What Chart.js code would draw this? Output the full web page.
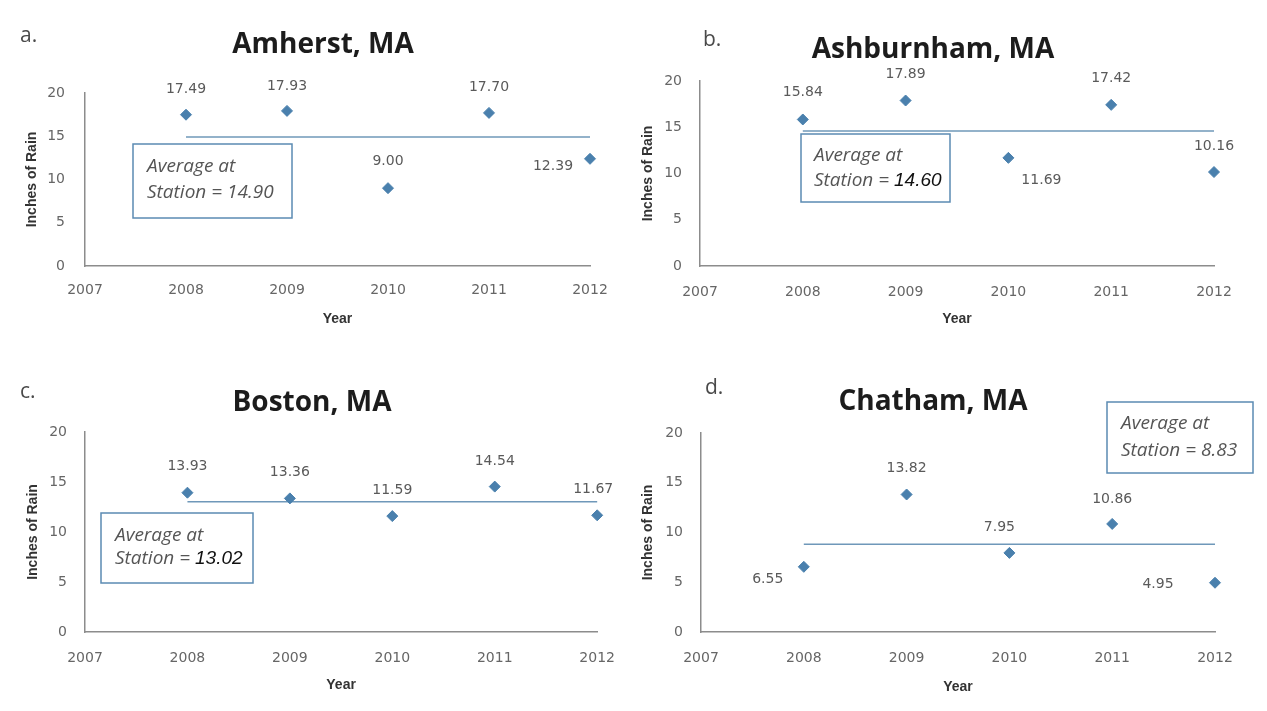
<!DOCTYPE html>
<html>
<head>
<meta charset="utf-8">
<title>Inches of Rain by Year</title>
<script src="https://cdn.jsdelivr.net/npm/chart.js@4.4.0/dist/chart.umd.min.js"></script>
<style>
  body { margin: 0; background: #fff; }
  #wrap { position: relative; width: 1267px; height: 711px; overflow: hidden; }
  canvas { position: absolute; }
</style>
</head>
<body>
<div id="wrap">
  <canvas id="chartA" style="left:0;top:0" width="633" height="355"></canvas>
  <canvas id="chartB" style="left:633px;top:0" width="634" height="355"></canvas>
  <canvas id="chartC" style="left:0;top:355px" width="633" height="356"></canvas>
  <canvas id="chartD" style="left:633px;top:355px" width="634" height="356"></canvas>
</div>
<script>
// Years measured and axis ticks
const years = [2008, 2009, 2010, 2011, 2012];
const yearTicks = [2007, 2008, 2009, 2010, 2011, 2012];
const rainTicks = [0, 5, 10, 15, 20];

// Inches of rain at each station
const amherst = [17.49, 17.93, 9.00, 17.70, 12.39];
const ashburnham = [15.84, 17.89, 11.69, 17.42, 10.16];
const boston = [13.93, 13.36, 11.59, 14.54, 11.67];
const chatham = [6.55, 13.82, 7.95, 10.86, 4.95];

// Station averages
const averages = [14.90, 14.60, 13.02, 8.83];
const stations = ['Amherst, MA', 'Ashburnham, MA', 'Boston, MA', 'Chatham, MA'];
const letters = ['a.', 'b.', 'c.', 'd.'];
const seriesList = [amherst, ashburnham, boston, chatham];

// Layout of each panel (pixels inside its canvas)
const panels = [
  { id: 'chartA', area: { l: 85, t: 93, r: 590, b: 266 }, yTitleX: 32, xTitleY: 319, xTickPad: 16, yTickPad: 20,
    letter: [20, 36], title: [323, 45], box: [133, 144, 159, 74], boxText: [147, 167, 193], darkValue: false,
    offsets: [[0, -25], [0, -25], [0, -27], [0, -26], [-37, 8]] },
  { id: 'chartB', area: { l: 67, t: 81, r: 581, b: 266 }, yTitleX: 15, xTitleY: 319, xTickPad: 18, yTickPad: 18,
    letter: [70, 40], title: [300, 50], box: [168, 134, 149, 68], boxText: [181, 156, 181], darkValue: true,
    offsets: [[0, -27], [0, -26], [33, 22], [0, -27], [0, -26]] },
  { id: 'chartC', area: { l: 85, t: 77, r: 600, b: 277 }, yTitleX: 33, xTitleY: 330, xTickPad: 18, yTickPad: 18,
    letter: [20, 37], title: [312, 48], box: [101, 158, 152, 70], boxText: [115, 181, 204], darkValue: true,
    offsets: [[0, -26], [0, -26], [0, -26], [0, -25], [-4, -26]] },
  { id: 'chartD', area: { l: 68, t: 78, r: 582, b: 277 }, yTitleX: 15, xTitleY: 332, xTickPad: 18, yTickPad: 18,
    letter: [72, 33], title: [300, 47], box: [474, 47, 146, 71], boxText: [488, 69, 96], darkValue: false,
    offsets: [[-36, 13], [0, -26], [-10, -26], [0, -25], [-57, 2]] }
];

const pointColor = '#4a80ad';
const lineColor = '#6f98b9';
const axisColor = '#8c8c8c';

function makePanel(p, i) {
  const canvas = document.getElementById(p.id);
  const values = seriesList[i];
  const avg = averages[i];
  const titleHalf = 8.4;

  const padLeft = p.yTitleX - titleHalf;
  const yWidth = p.area.l - padLeft;
  const xBottom = p.xTitleY + titleHalf;
  const xHeight = xBottom - p.area.b;

  // letter, title, data labels and the average box
  const panelText = {
    id: 'panelText',
    afterDatasetsDraw(chart) {
      const ctx = chart.ctx;
      ctx.save();
      ctx.textBaseline = 'middle';

      ctx.fillStyle = '#4a4a4a';
      ctx.font = '21px "Open Sans"';
      ctx.textAlign = 'left';
      ctx.fillText(letters[i], p.letter[0], p.letter[1]);

      ctx.fillStyle = '#1c1c1c';
      ctx.font = 'bold 28px "Open Sans"';
      ctx.textAlign = 'center';
      ctx.fillText(stations[i], p.title[0], p.title[1]);

      const meta = chart.getDatasetMeta(0);
      ctx.fillStyle = '#5a5a5a';
      ctx.font = '14px "DejaVu Sans"';
      meta.data.forEach((pt, k) => {
        const off = p.offsets[k];
        ctx.fillText(values[k].toFixed(2), pt.x + off[0], pt.y + off[1]);
      });

      const [bx, by, bw, bh] = p.box;
      ctx.fillStyle = '#fff';
      ctx.fillRect(bx, by, bw, bh);
      ctx.strokeStyle = '#5b8bb3';
      ctx.lineWidth = 1.5;
      ctx.strokeRect(bx, by, bw, bh);

      ctx.textAlign = 'left';
      ctx.fillStyle = '#555';
      ctx.font = 'italic 19px "Open Sans"';
      ctx.fillText('Average at', p.boxText[0], p.boxText[1]);
      const lead = 'Station = ';
      if (p.darkValue) {
        ctx.fillText(lead, p.boxText[0], p.boxText[2]);
        const w = ctx.measureText(lead).width;
        ctx.fillStyle = '#111';
        ctx.font = 'italic 19px "Liberation Sans"';
        ctx.fillText(avg.toFixed(2), p.boxText[0] + w, p.boxText[2]);
      } else {
        ctx.fillText(lead + avg.toFixed(2), p.boxText[0], p.boxText[2]);
      }
      ctx.restore();
    }
  };

  return new Chart(canvas, {
    type: 'scatter',
    data: {
      datasets: [
        {
          label: stations[i],
          data: years.map((yr, k) => ({ x: yr, y: values[k] })),
          backgroundColor: pointColor,
          borderColor: pointColor,
          pointStyle: 'rectRot',
          pointRadius: 5.5,
          showLine: false,
          clip: false
        },
        {
          label: 'Average',
          data: [
            { x: years[0], y: avg },
            { x: years[years.length - 1], y: avg }
          ],
          borderColor: lineColor,
          borderWidth: 1.5,
          pointRadius: 0,
          showLine: true,
          clip: false
        }
      ]
    },
    options: {
      responsive: false,
      animation: false,
      devicePixelRatio: 1,
      events: [],
      layout: {
        padding: {
          left: padLeft,
          top: p.area.t,
          right: canvas.width - p.area.r,
          bottom: canvas.height - xBottom
        }
      },
      plugins: {
        legend: { display: false },
        tooltip: { enabled: false }
      },
      scales: {
        x: {
          type: 'linear',
          min: yearTicks[0],
          max: yearTicks[yearTicks.length - 1],
          afterBuildTicks: (scale) => { scale.ticks = yearTicks.map(v => ({ value: v })); },
          afterFit: (scale) => { scale.height = xHeight; },
          grid: { drawOnChartArea: false, drawTicks: false },
          border: { color: axisColor, width: 1.5 },
          ticks: {
            padding: p.xTickPad,
            color: '#666',
            font: { family: 'DejaVu Sans', size: 14 },
            maxRotation: 0,
            callback: (v) => String(v)
          },
          title: {
            display: true,
            text: 'Year',
            color: '#333',
            padding: 0,
            font: { family: 'Liberation Sans', size: 14, weight: 'bold' }
          }
        },
        y: {
          min: rainTicks[0],
          max: rainTicks[rainTicks.length - 1],
          afterBuildTicks: (scale) => { scale.ticks = rainTicks.map(v => ({ value: v })); },
          afterFit: (scale) => { scale.width = yWidth; },
          grid: { drawOnChartArea: false, drawTicks: false },
          border: { color: axisColor, width: 1.5 },
          ticks: {
            padding: p.yTickPad,
            color: '#666',
            font: { family: 'DejaVu Sans', size: 14 }
          },
          title: {
            display: true,
            text: 'Inches of Rain',
            color: '#333',
            padding: 0,
            font: { family: 'Liberation Sans', size: 14, weight: 'bold' }
          }
        }
      }
    },
    plugins: [panelText]
  });
}

panels.forEach((p, i) => makePanel(p, i));
</script>
</body>
</html>
